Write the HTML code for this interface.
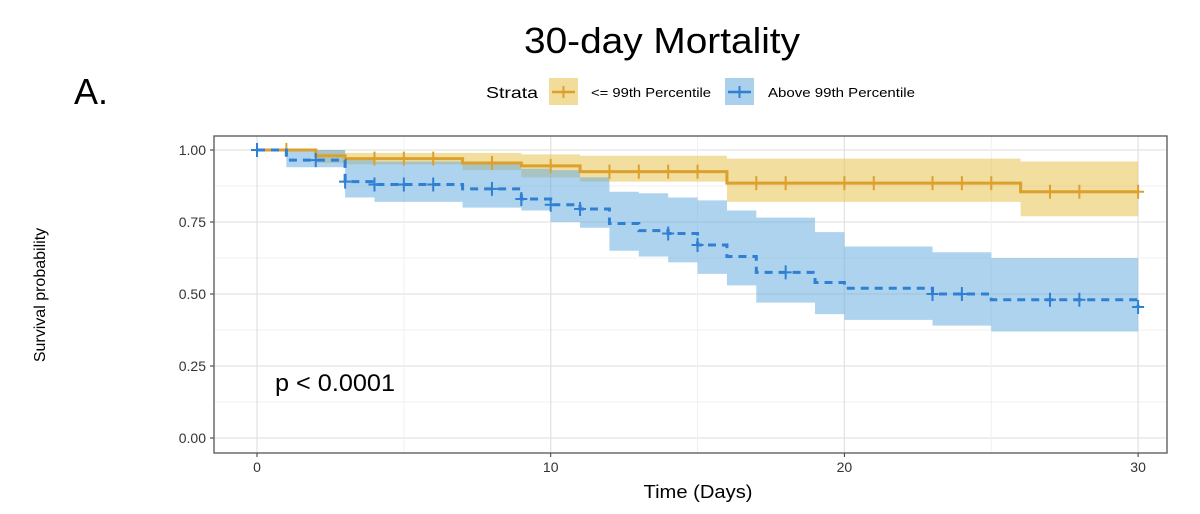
<!DOCTYPE html>
<html><head><meta charset="utf-8"><style>
body{margin:0;background:#fff;width:1200px;height:509px;overflow:hidden;font-family:"Liberation Sans",sans-serif}
</style></head><body>
<svg id="chart" width="1200" height="509" xmlns="http://www.w3.org/2000/svg" font-family="Liberation Sans, sans-serif">
<text x="662" y="53" font-size="36" text-anchor="middle" fill="#000" textLength="276" lengthAdjust="spacingAndGlyphs">30-day Mortality</text>
<text x="74" y="104" font-size="36" fill="#000">A.</text>
<g>
<text x="486" y="98" font-size="16" textLength="52" lengthAdjust="spacingAndGlyphs">Strata</text>
<g>
<rect x="549" y="78" width="29" height="27" fill="#f2dc9a"/>
<line x1="552" y1="92" x2="575" y2="92" stroke="#dca02c" stroke-width="2.5"/><line x1="563.5" y1="86" x2="563.5" y2="98" stroke="#dca02c" stroke-width="2"/>
<text x="591" y="97" font-size="13" textLength="120" lengthAdjust="spacingAndGlyphs">&lt;= 99th Percentile</text></g>
<g>
<rect x="725" y="78" width="29" height="27" fill="#abd0ec"/>
<line x1="728" y1="92" x2="751" y2="92" stroke="#2f7fd3" stroke-width="2.5"/><line x1="739.5" y1="86" x2="739.5" y2="98" stroke="#2f7fd3" stroke-width="2"/>
<text x="768" y="97" font-size="13" textLength="147" lengthAdjust="spacingAndGlyphs">Above 99th Percentile</text></g>
</g>
<g id="grid"></g><g id="bands"></g><g id="lines"></g><g id="axes"></g>
<text x="275" y="391" font-size="24" textLength="120" lengthAdjust="spacingAndGlyphs">p &lt; 0.0001</text>
<text x="698" y="498" font-size="18" text-anchor="middle" textLength="109" lengthAdjust="spacingAndGlyphs">Time (Days)</text>
<text x="45" y="295" font-size="16" text-anchor="middle" transform="rotate(-90 45 295)">Survival probability</text>
</svg>
<script>
const xTicks=[0,10,20,30];
const yTicks=[0,0.25,0.5,0.75,1];
const yTickLabels=["0.00","0.25","0.50","0.75","1.00"];
const lowTimes=[0,2,3,7,9,11,16,26];
const lowSurv=[1,0.98,0.97,0.955,0.945,0.925,0.885,0.855];
const lowUpper=[1,1,0.99,0.99,0.985,0.98,0.97,0.96];
const lowLower=[1,0.955,0.95,0.93,0.905,0.89,0.82,0.77];
const lowCensor=[1,4,5,6,8,10,12,13,14,15,17,18,20,21,23,24,25,27,28,30];
const highTimes=[0,1,3,4,7,9,10,11,12,13,14,15,16,17,19,20,23,25,30];
const highSurv=[1,0.965,0.89,0.88,0.865,0.83,0.81,0.795,0.745,0.72,0.71,0.67,0.63,0.575,0.54,0.52,0.5,0.48,0.455];
const highUpper=[1,1,0.965,0.96,0.95,0.935,0.93,0.905,0.855,0.85,0.835,0.825,0.79,0.765,0.715,0.665,0.645,0.625,0.625];
const highLower=[1,0.94,0.835,0.82,0.8,0.79,0.75,0.73,0.65,0.63,0.61,0.57,0.53,0.47,0.43,0.41,0.39,0.37,0.37];
const highCensor=[0,2,3,4,5,6,8,9,10,11,14,15,18,23,24,27,28,30];
const tEnd=30;
const X=t=>257+t*29.37, Y=s=>438-s*288;
const NS="http://www.w3.org/2000/svg";
function mk(tag,attrs,parent){const e=document.createElementNS(NS,tag);for(const k in attrs)e.setAttribute(k,attrs[k]);parent.appendChild(e);return e;}
const grid=document.getElementById('grid'),bands=document.getElementById('bands'),lines=document.getElementById('lines'),axes=document.getElementById('axes');
const L=214,R=1167,T=136,B=453;
mk('rect',{x:L,y:T,width:R-L,height:B-T,fill:'#fff'},grid);
for(let i=0;i<yTicks.length;i++){
 if(i<yTicks.length-1){const m=(yTicks[i]+yTicks[i+1])/2;mk('line',{x1:L,x2:R,y1:Y(m),y2:Y(m),stroke:'#f0f0f0','stroke-width':1},grid);}
 const g=mk('line',{x1:L,x2:R,y1:Y(yTicks[i]),y2:Y(yTicks[i]),stroke:'#e3e3e3','stroke-width':1.3},grid);
 
 
 const tl=mk('text',{x:L-8,y:Y(yTicks[i])+5,'font-size':14,'text-anchor':'end',fill:'#333'},axes);tl.textContent=yTickLabels[i];
 
 
 mk('line',{x1:L-4,x2:L,y1:Y(yTicks[i]),y2:Y(yTicks[i]),stroke:'#333'},axes);
}
for(let i=0;i<xTicks.length;i++){
 if(i<xTicks.length-1){const m=(xTicks[i]+xTicks[i+1])/2;mk('line',{y1:T,y2:B,x1:X(m),x2:X(m),stroke:'#f0f0f0'},grid);}
 const g=mk('line',{y1:T,y2:B,x1:X(xTicks[i]),x2:X(xTicks[i]),stroke:'#e3e3e3','stroke-width':1.3},grid);
 
 
 const tl=mk('text',{x:X(xTicks[i]),y:B+19,'font-size':14,'text-anchor':'middle',fill:'#333'},axes);tl.textContent=xTicks[i];
 
 
 mk('line',{y1:B,y2:B+4,x1:X(xTicks[i]),x2:X(xTicks[i]),stroke:'#333'},axes);
}
const border=mk('rect',{x:L,y:T,width:R-L,height:B-T,fill:'none',stroke:'#555','stroke-width':1.3},axes);


function band(times,up,lo,fill,name){
 let top='',bot=[];
 for(let i=0;i<times.length;i++){const x0=X(times[i]),x1=X(i+1<times.length?times[i+1]:tEnd);
  top+=`${x0},${Y(up[i])} ${x1},${Y(up[i])} `;bot.unshift(`${x1},${Y(lo[i])} ${x0},${Y(lo[i])}`);}
 const p=mk('polygon',{points:top+bot.join(' '),fill:fill,'fill-opacity':0.55},bands);
 
 
}
function stepFn(times,s,t){let v=s[0];for(let i=0;i<times.length;i++)if(times[i]<=t)v=s[i];return v;}
function curve(times,s,censor,color,dash,name){
 let d=`M${X(times[0])},${Y(s[0])}`;
 for(let i=1;i<times.length;i++){d+=` H${X(times[i])} V${Y(s[i])}`;}
 d+=` H${X(tEnd)}`;
 const p=mk('path',{d:d,fill:'none',stroke:color,'stroke-width':3,'stroke-dasharray':dash},lines);
 
 
 censor.forEach(t=>{const y=Y(stepFn(times,s,t)),x=X(t);
  const c=mk('path',{d:`M${x-6},${y} H${x+6} M${x},${y-7} V${y+7}`,stroke:color,'stroke-width':2,fill:'none'},lines);
  
  });
}
band(lowTimes,lowUpper,lowLower,'#e8c24e','ci-band-low');
band(highTimes,highUpper,highLower,'#6aaee0','ci-band-high');
curve(lowTimes,lowSurv,lowCensor,'#dca02c','none','survival-curve-low');
curve(highTimes,highSurv,highCensor,'#2f7fd3','8 6','survival-curve-high');
</script>
</body></html>
